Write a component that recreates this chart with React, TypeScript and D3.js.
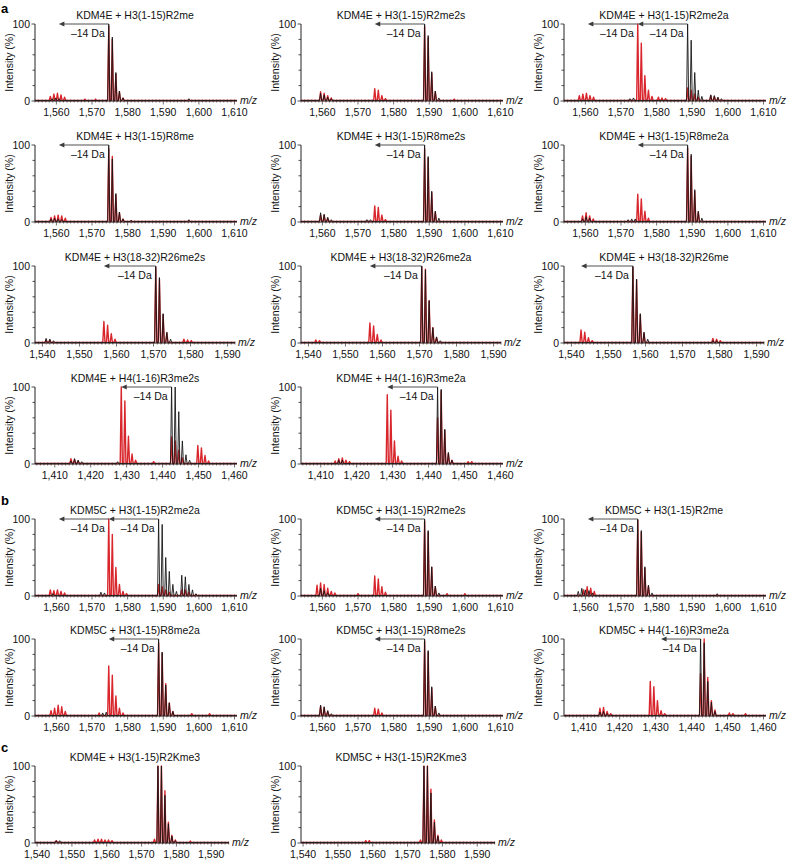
import React from 'react';
import * as d3 from 'd3';

type Pk = [number, number];

const FONT = '"Liberation Sans", Arial, Helvetica, sans-serif';
const BLACK = '#161616';
const RED = '#d8262c';
const ARROW = '#3c3c3c';

// ---- tick values ----
const ticksH3 = [1560, 1570, 1580, 1590, 1600, 1610];
const ticksH3b = [1540, 1550, 1560, 1570, 1580, 1590];
const ticksH4 = [1410, 1420, 1430, 1440, 1450, 1460];
const yTicks = [0, 20, 40, 60, 80, 100];
const yLabels = [0, 100];

// ---- titles ----
const titles = [
  'KDM4E + H3(1-15)R2me', 'KDM4E + H3(1-15)R2me2s', 'KDM4E + H3(1-15)R2me2a',
  'KDM4E + H3(1-15)R8me', 'KDM4E + H3(1-15)R8me2s', 'KDM4E + H3(1-15)R8me2a',
  'KDM4E + H3(18-32)R26me2s', 'KDM4E + H3(18-32)R26me2a', 'KDM4E + H3(18-32)R26me',
  'KDM4E + H4(1-16)R3me2s', 'KDM4E + H4(1-16)R3me2a',
  'KDM5C + H3(1-15)R2me2a', 'KDM5C + H3(1-15)R2me2s', 'KDM5C + H3(1-15)R2me',
  'KDM5C + H3(1-15)R8me2a', 'KDM5C + H3(1-15)R8me2s', 'KDM5C + H4(1-16)R3me2a',
  'KDM4E + H3(1-15)R2Kme3', 'KDM5C + H3(1-15)R2Kme3',
];

// ---- spectra (m/z, intensity %) ----
const a1Black: Pk[] = [[1558.8,3],[1559.8,4],[1560.8,3],[1574.7,100],[1575.7,83],[1576.7,37],[1577.7,13],[1578.7,4],[1597.2,3]];
const a1Red: Pk[] = [[1558.3,6],[1559.3,9],[1560.3,10],[1561.3,8],[1562.3,5],[1568,2.5],[1571,2.5],[1574.7,97],[1575.7,80],[1576.7,35],[1577.7,12],[1578.7,4]];

const a2Black: Pk[] = [[1559.5,10],[1560.5,8],[1561.5,5],[1562.5,3],[1588.7,100],[1589.7,85],[1590.7,38],[1591.7,13],[1592.7,4]];
const a2Red: Pk[] = [[1559.5,12],[1560.5,10],[1561.5,7],[1562.5,4],[1574.7,16],[1575.7,14],[1576.7,7],[1577.7,3],[1588.7,97],[1589.7,82],[1590.7,36],[1591.7,12],[1597,2.5]];

const a3Black: Pk[] = [[1572.5,3],[1573.5,4],[1588.7,100],[1589.7,79],[1590.7,37],[1591.7,14],[1592.7,6],[1595.2,8],[1596.2,7],[1597.2,5],[1598.2,3]];
const a3Red: Pk[] = [[1558.3,7],[1559.3,9],[1560.3,10],[1561.3,7],[1562.3,5],[1574.7,100],[1575.7,75],[1576.7,33],[1577.7,14],[1578.7,6],[1580.5,5],[1581.5,4],[1582.5,3],[1588.7,17],[1589.7,14],[1590.7,9],[1591.7,5],[1595.2,7],[1596.2,6],[1597.2,4]];

const a4Black: Pk[] = [[1558.5,4],[1559.5,5],[1560.5,4],[1561.5,3],[1574.7,100],[1575.7,82],[1576.7,37],[1577.7,13],[1578.7,4],[1581,2.5],[1597.2,3]];
const a4Red: Pk[] = [[1558.5,6],[1559.5,8],[1560.5,9],[1561.5,8],[1562.5,5],[1574.7,95],[1575.7,85],[1576.7,35],[1577.7,12],[1578.7,4]];

const a5Black: Pk[] = [[1559.5,12],[1560.5,10],[1561.5,6],[1562.5,3],[1572.5,3],[1573.5,3],[1588.7,100],[1589.7,85],[1590.7,40],[1591.7,14],[1592.7,5]];
const a5Red: Pk[] = [[1559.5,9],[1560.5,9],[1561.5,5],[1574.7,21],[1575.7,19],[1576.7,9],[1577.7,3],[1588.7,95],[1589.7,83],[1590.7,38],[1591.7,13]];

const a6Black: Pk[] = [[1559.2,4],[1560.2,7],[1561.2,5],[1572,3],[1573,4],[1574,4],[1588.7,100],[1589.7,88],[1590.7,42],[1591.7,14],[1592.7,5]];
const a6Red: Pk[] = [[1559.2,8],[1560.2,12],[1561.2,8],[1562.2,4],[1574.7,36],[1575.7,30],[1576.7,14],[1577.7,5],[1588.7,96],[1589.7,85],[1590.7,40],[1591.7,13]];

const a7Black: Pk[] = [[1541,6],[1542,5],[1543,3],[1570.6,100],[1571.6,85],[1572.6,38],[1573.6,14],[1574.6,5]];
const a7Red: Pk[] = [[1541,4],[1542,4],[1556.6,28],[1557.6,23],[1558.6,12],[1559.6,5],[1570.6,98],[1571.6,83],[1572.6,37],[1573.6,13],[1578.2,5],[1579.2,4],[1580.2,3]];

const a8Black: Pk[] = [[1570.6,100],[1571.6,95],[1572.6,55],[1573.6,20],[1574.6,8],[1575.6,3]];
const a8Red: Pk[] = [[1542,4],[1543,3],[1556.6,26],[1557.6,22],[1558.6,11],[1559.6,4],[1570.6,99],[1571.6,96],[1572.6,55],[1573.6,20],[1574.6,7]];

const a9Black: Pk[] = [[1556.6,100],[1557.6,83],[1558.6,38],[1559.6,14],[1560.6,5],[1578.2,3],[1579.2,3]];
const a9Red: Pk[] = [[1542.6,17],[1543.6,14],[1544.6,7],[1545.6,3],[1556.6,98],[1557.6,82],[1558.6,37],[1559.6,13],[1578.2,6],[1579.2,5],[1580.2,3]];

const a10Black: Pk[] = [[1414.5,4],[1415.5,7],[1416.5,5],[1417.5,3],[1427.5,3],[1442.5,100],[1443.5,100],[1444.5,68],[1445.5,30],[1446.5,12],[1447.5,5]];
const a10Red: Pk[] = [[1414.5,7],[1415.5,6],[1416.5,4],[1428.5,100],[1429.5,82],[1430.5,36],[1431.5,13],[1432.5,5],[1437.5,3],[1442.5,35],[1443.5,30],[1444.5,18],[1445.5,8],[1449.8,24],[1450.8,21],[1451.8,11],[1452.8,4]];

const a11Black: Pk[] = [[1415,5],[1416,5],[1442.5,100],[1443.5,97],[1444.5,45],[1445.5,15],[1446.5,5]];
const a11Red: Pk[] = [[1414,4],[1415,7],[1416,8],[1417,5],[1418,3],[1428.5,90],[1429.5,70],[1430.5,30],[1431.5,10],[1432.5,4],[1442.5,60],[1443.5,95],[1444.5,44],[1445.5,14],[1446.5,5],[1451,3],[1452,3]];

const b1Black: Pk[] = [[1559,3],[1572.5,5],[1573.5,4],[1588.7,100],[1589.7,93],[1590.7,50],[1591.7,32],[1592.7,15],[1593.7,6],[1595.2,27],[1596.2,25],[1597.2,15],[1598.2,8],[1599.2,3]];
const b1Red: Pk[] = [[1558.3,8],[1559.3,7],[1560.3,8],[1561.3,6],[1562.3,4],[1574.7,100],[1575.7,80],[1576.7,37],[1577.7,15],[1578.7,6],[1579.7,3],[1588.7,15],[1589.7,12],[1590.7,8],[1591.7,5],[1595.2,8],[1596.2,8],[1597.2,5]];

const b2Black: Pk[] = [[1559.5,10],[1560.5,7],[1561.5,4],[1588.7,100],[1589.7,85],[1590.7,38],[1591.7,13],[1592.7,4]];
const b2Red: Pk[] = [[1558.5,14],[1559.5,17],[1560.5,15],[1561.5,10],[1562.5,6],[1563.5,4],[1570,3],[1574.7,26],[1575.7,22],[1576.7,12],[1577.7,5],[1588.7,97],[1589.7,83],[1590.7,37],[1591.7,12],[1595,3],[1600,3]];

const b3Black: Pk[] = [[1558,6],[1559,10],[1560,8],[1561,7],[1562,4],[1574.7,100],[1575.7,85],[1576.7,38],[1577.7,14],[1578.7,4],[1597,3]];
const b3Red: Pk[] = [[1559.5,8],[1560.5,12],[1561.5,10],[1562.5,6],[1574.7,98],[1575.7,83],[1576.7,36],[1577.7,13]];

const b4Black: Pk[] = [[1573,4],[1574,5],[1588.7,100],[1589.7,83],[1590.7,40],[1591.7,17],[1592.7,6]];
const b4Red: Pk[] = [[1558.5,7],[1559.5,10],[1560.5,14],[1561.5,12],[1562.5,6],[1572,4],[1574.7,65],[1575.7,53],[1576.7,26],[1577.7,10],[1578.7,4],[1588.7,95],[1589.7,82],[1590.7,42],[1591.7,17],[1592.7,6],[1598,3],[1603,3]];

const b5Black: Pk[] = [[1559.5,14],[1560.5,12],[1561.5,7],[1562.5,3],[1588.7,100],[1589.7,85],[1590.7,38],[1591.7,13],[1592.7,4]];
const b5Red: Pk[] = [[1559.5,13],[1560.5,11],[1561.5,6],[1574.7,10],[1575.7,9],[1576.7,4],[1588.7,97],[1589.7,83],[1590.7,36],[1591.7,12]];

const b6Black: Pk[] = [[1414.5,5],[1415.5,6],[1416.5,3],[1442.5,100],[1443.5,95],[1444.5,45],[1445.5,18],[1446.5,6]];
const b6Red: Pk[] = [[1414.5,10],[1415.5,11],[1416.5,6],[1417.5,3],[1428.5,45],[1429.5,38],[1430.5,20],[1431.5,7],[1432.5,3],[1442.5,55],[1443.5,100],[1444.5,50],[1445.5,20],[1446.5,8],[1450.5,4],[1451.5,3],[1455,3]];

const c1Black: Pk[] = [[1545.5,3],[1546.5,3],[1574.7,100],[1575.7,100],[1576.7,62],[1577.7,25],[1578.7,9],[1579.7,3]];
const c1Red: Pk[] = [[1545.5,3],[1556.5,4],[1557.5,5],[1558.5,5],[1559.5,4],[1560.5,4],[1561.5,3],[1573.7,5],[1574.7,100],[1575.7,100],[1576.7,68],[1577.7,27],[1578.7,10],[1579.7,4],[1584,2.5]];

const c2Black: Pk[] = [[1574.7,100],[1575.7,100],[1576.7,65],[1577.7,27],[1578.7,9]];
const c2Red: Pk[] = [[1558,3],[1559,3],[1573.7,4],[1574.7,100],[1575.7,100],[1576.7,70],[1577.7,30],[1578.7,10],[1579.7,4]];

// ---- arrows [from m/z, to m/z] ----
const arrH3a: [number, number][] = [[1574.7, 1560.7]];
const arrH3b: [number, number][] = [[1588.7, 1574.7]];
const arrH3ab: [number, number][] = [[1588.7, 1574.7], [1574.7, 1560.7]];
const arr26b: [number, number][] = [[1570.6, 1556.6]];
const arr26a: [number, number][] = [[1556.6, 1542.6]];
const arrH4: [number, number][] = [[1442.5, 1428.5]];
const arrH4s: [number, number][] = [[1442.5, 1431.5]];
const arrNone: [number, number][] = [];

// ---- layout ----
const COL_X = [35, 301, 564];
const ROW_TOP = [24, 145, 266, 387, 519, 639, 766];
const PLOT_H = 77;

type AxisKey = 'H3' | 'H3b' | 'H4' | 'C';
const axes: Record<AxisKey, { domain: [number, number]; width: number; ticks: number[] }> = {
  H3: { domain: [1554, 1610.7], width: 202, ticks: ticksH3 },
  H3b: { domain: [1538, 1592], width: 200, ticks: ticksH3b },
  H4: { domain: [1404.5, 1460.7], width: 202, ticks: ticksH4 },
  C: { domain: [1539.4, 1595.1], width: 194, ticks: ticksH3b },
};

const panels: { t: number; col: number; row: number; ax: AxisKey; black: Pk[]; red: Pk[]; arrows: [number, number][] }[] = [
  { t: 0, col: 0, row: 0, ax: 'H3', black: a1Black, red: a1Red, arrows: arrH3a },
  { t: 1, col: 1, row: 0, ax: 'H3', black: a2Black, red: a2Red, arrows: arrH3b },
  { t: 2, col: 2, row: 0, ax: 'H3', black: a3Black, red: a3Red, arrows: arrH3ab },
  { t: 3, col: 0, row: 1, ax: 'H3', black: a4Black, red: a4Red, arrows: arrH3a },
  { t: 4, col: 1, row: 1, ax: 'H3', black: a5Black, red: a5Red, arrows: arrH3b },
  { t: 5, col: 2, row: 1, ax: 'H3', black: a6Black, red: a6Red, arrows: arrH3b },
  { t: 6, col: 0, row: 2, ax: 'H3b', black: a7Black, red: a7Red, arrows: arr26b },
  { t: 7, col: 1, row: 2, ax: 'H3b', black: a8Black, red: a8Red, arrows: arr26b },
  { t: 8, col: 2, row: 2, ax: 'H3b', black: a9Black, red: a9Red, arrows: arr26a },
  { t: 9, col: 0, row: 3, ax: 'H4', black: a10Black, red: a10Red, arrows: arrH4 },
  { t: 10, col: 1, row: 3, ax: 'H4', black: a11Black, red: a11Red, arrows: arrH4 },
  { t: 11, col: 0, row: 4, ax: 'H3', black: b1Black, red: b1Red, arrows: arrH3ab },
  { t: 12, col: 1, row: 4, ax: 'H3', black: b2Black, red: b2Red, arrows: arrH3b },
  { t: 13, col: 2, row: 4, ax: 'H3', black: b3Black, red: b3Red, arrows: arrH3a },
  { t: 14, col: 0, row: 5, ax: 'H3', black: b4Black, red: b4Red, arrows: arrH3b },
  { t: 15, col: 1, row: 5, ax: 'H3', black: b5Black, red: b5Red, arrows: arrH3b },
  { t: 16, col: 2, row: 5, ax: 'H4', black: b6Black, red: b6Red, arrows: arrH4s },
  { t: 17, col: 0, row: 6, ax: 'C', black: c1Black, red: c1Red, arrows: arrNone },
  { t: 18, col: 1, row: 6, ax: 'C', black: c2Black, red: c2Red, arrows: arrNone },
];

const HW = 0.3;
const BASE = 0.7;

function specPath(pk: Pk[], x: d3.ScaleLinear<number, number>, y: d3.ScaleLinear<number, number>, dom: [number, number]) {
  const s = [...pk].sort((a, b) => a[0] - b[0]);
  const pts: [number, number][] = [[x(dom[0]), y(BASE)]];
  s.forEach(([m, h]) => {
    pts.push([x(m - HW), y(BASE)]);
    pts.push([x(m), y(h)]);
    pts.push([x(m + HW), y(BASE)]);
  });
  pts.push([x(dom[1]), y(BASE)]);
  return d3.line()(pts) || '';
}

function Panel({ p }: { p: typeof panels[number] }) {
  const spec = axes[p.ax];
  const x0 = COL_X[p.col];
  const top = ROW_TOP[p.row];
  const bottom = top + PLOT_H;
  const x = d3.scaleLinear().domain(spec.domain).range([x0, x0 + spec.width]);
  const y = d3.scaleLinear().domain([0, 100]).range([bottom, top]);
  const minor = d3.range(Math.ceil(spec.domain[0]), Math.floor(spec.domain[1]) + 1);
  const peakAt = (m: number) => {
    const all = [...p.black, ...p.red].filter((d) => Math.abs(d[0] - m) < 0.35);
    return all.length ? d3.max(all, (d) => d[1]) as number : 0;
  };
  return (
    <g>
      <text x={x0 + 100} y={top - 5} textAnchor="middle" fontSize={10.5} fontFamily={FONT} fill="#111">{titles[p.t]}</text>
      <text transform={`translate(${x0 - 22},${top + PLOT_H / 2}) rotate(-90)`} textAnchor="middle" fontSize={10.5} fontFamily={FONT} fill="#111">Intensity (%)</text>
      {yLabels.map((v) => (
        <text key={v} x={x0 - 5} y={y(v) + (v === 0 ? 3.5 : 4)} textAnchor="end" fontSize={10.5} fontFamily={FONT} fill="#111">{v}</text>
      ))}
      {yTicks.map((v) => (
        <line key={v} x1={x0 - (v % 100 === 0 ? 3.5 : 2.5)} x2={x0} y1={y(v)} y2={y(v)} stroke="#222" strokeWidth={0.8} />
      ))}
      <line x1={x0} x2={x0} y1={top} y2={bottom} stroke="#222" strokeWidth={1} />
      {minor.map((m) => (
        <line key={m} x1={x(m)} x2={x(m)} y1={bottom - 1.5} y2={bottom + (m % 10 === 0 ? 3.5 : 1.5)} stroke="#333" strokeWidth={0.7} />
      ))}
      <path d={specPath(p.red, x, y, spec.domain)} fill="none" stroke={RED} strokeWidth={1.4} strokeLinejoin="round" />
      <path d={specPath(p.black, x, y, spec.domain)} fill="none" stroke={BLACK} strokeWidth={0.9} strokeLinejoin="round" />
      <line x1={x0} x2={x0 + spec.width} y1={bottom} y2={bottom} stroke="#222" strokeWidth={1} />
      {spec.ticks.map((t) => (
        <text key={t} x={x(t)} y={bottom + 14.5} textAnchor="middle" fontSize={10.5} fontFamily={FONT} fill="#111">{d3.format(',')(t)}</text>
      ))}
      <text x={x0 + spec.width + 3} y={bottom + 3} fontSize={10.5} fontStyle="italic" fontFamily={FONT} fill="#111">m/z</text>
      {p.arrows.map(([from, to], i) => {
        const ya = y(100);
        const ph = peakAt(from);
        return (
          <g key={i}>
            {ph < 100 && <line x1={x(from)} x2={x(from)} y1={ya} y2={y(ph)} stroke={ARROW} strokeWidth={0.9} />}
            <line x1={x(from)} x2={x(to) + 4} y1={ya} y2={ya} stroke={ARROW} strokeWidth={0.9} />
            <polygon points={`${x(to)},${ya} ${x(to) + 5.5},${ya - 2.4} ${x(to) + 5.5},${ya + 2.4}`} fill={ARROW} />
            <text x={x(from) - 4} y={top + 13} textAnchor="end" fontSize={10.5} fontFamily={FONT} fill="#111">–14 Da</text>
          </g>
        );
      })}
    </g>
  );
}

const panelLetters: [string, number][] = [['a', 13], ['b', 505], ['c', 752]];

export default function App() {
  return (
    <svg width={788} height={864} viewBox="0 0 788 864" style={{ position: 'absolute', left: 0, top: 0, background: '#fff' }}>
      <rect width={788} height={864} fill="#fff" />
      {panelLetters.map(([l, yy]) => (
        <text key={l} x={1} y={yy} fontSize={13} fontWeight="bold" fontFamily={FONT} fill="#000">{l}</text>
      ))}
      {panels.map((p, i) => <Panel key={i} p={p} />)}
    </svg>
  );
}
